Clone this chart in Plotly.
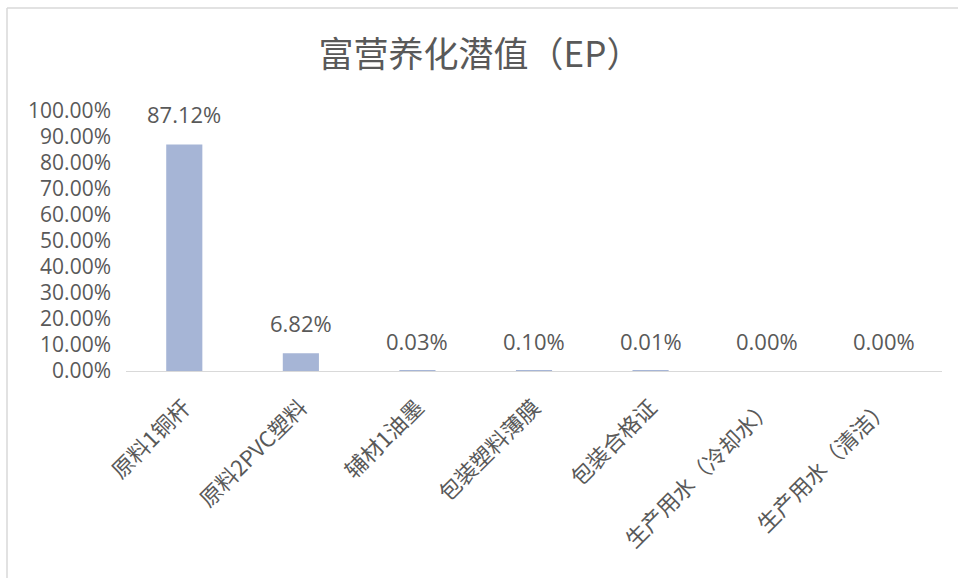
import plotly.graph_objects as go

# Eutrophication potential share per input item
categories = ["原料1铜杆", "原料2PVC塑料", "辅材1油墨", "包装塑料薄膜",
              "包装合格证", "生产用水（冷却水）", "生产用水（清洁）"]
values = [0.8712, 0.0682, 0.0003, 0.0010, 0.0001, 0.0000, 0.0000]
value_labels = ["87.12%", "6.82%", "0.03%", "0.10%", "0.01%", "0.00%", "0.00%"]
y_ticks = [i / 10 for i in range(11)]

W, H = 958, 578
L, R, T, B = 126, 16, 111, 207
pw, ph = W - L - R, H - T - B

def px_x(p):
    return (p - L) / pw

def px_y(p):
    return (H - B - p) / ph

TEXT = "#595959"
FONT = "Open Sans, Noto Sans CJK SC, sans-serif"
CJK = "Noto Sans CJK SC, sans-serif"

fig = go.Figure(go.Bar(
    x=categories, y=values,
    marker=dict(color="#A6B5D6", line=dict(width=0)),
    width=0.31,
    hoverinfo="skip",
))

for c, v, t in zip(categories, values, value_labels):
    fig.add_annotation(x=c, y=v, text=t, showarrow=False, yanchor="bottom",
                       yshift=13, font=dict(family=FONT, size=22, color=TEXT))

# thin frame along the left and top edges
frame = dict(type="line", xref="paper", yref="paper",
             line=dict(color="#D9D9D9", width=1.5))
fig.add_shape(**frame, x0=px_x(7), x1=px_x(7), y0=px_y(8), y1=px_y(H))
fig.add_shape(**frame, x0=px_x(7), x1=px_x(W), y0=px_y(8), y1=px_y(8))

fig.update_layout(
    width=W, height=H,
    margin=dict(l=L, r=R, t=T, b=B),
    paper_bgcolor="white", plot_bgcolor="white",
    showlegend=False,
    title=dict(text="富营养化潜值（EP）", x=480 / W,
               xanchor="center", y=1 - 55 / H, yanchor="middle",
               font=dict(family=CJK, size=35, color=TEXT)),
    xaxis=dict(showline=True, linecolor="#D9D9D9", linewidth=1,
               ticks="", tickangle=-45, showgrid=False,
               ticklabelstandoff=14,
               tickfont=dict(family=CJK, size=22, color=TEXT)),
    yaxis=dict(range=[0, 1], tickvals=y_ticks, tickformat=".2%",
               showgrid=False, showline=False, zeroline=False, ticks="",
               ticklabelstandoff=14,
               tickfont=dict(family=FONT, size=21, color=TEXT)),
)

fig.write_html("out.html")
